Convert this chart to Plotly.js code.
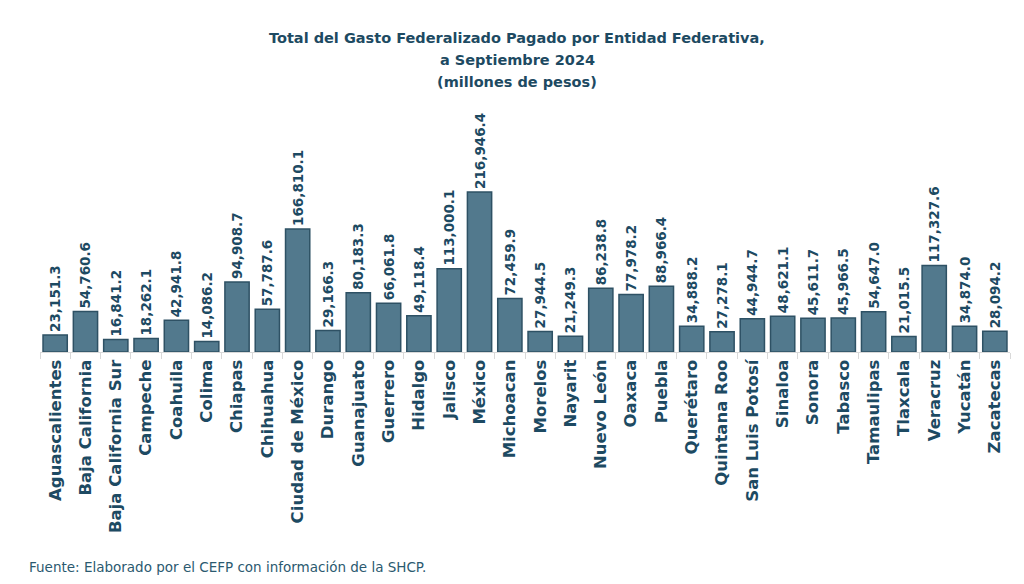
<!DOCTYPE html>
<html><head><meta charset="utf-8">
<script src="https://cdn.plot.ly/plotly-3.0.1.min.js"></script>
<style>html,body{margin:0;padding:0;background:#fff}#c{width:1024px;height:584px}</style>
</head><body><div id="c"></div>
<script>
const estados = ["Aguascalientes","Baja California","Baja California Sur","Campeche","Coahuila","Colima","Chiapas","Chihuahua","Ciudad de México","Durango","Guanajuato","Guerrero","Hidalgo","Jalisco","México","Michoacan","Morelos","Nayarit","Nuevo León","Oaxaca","Puebla","Querétaro","Quintana Roo","San Luis Potosí","Sinaloa","Sonora","Tabasco","Tamaulipas","Tlaxcala","Veracruz","Yucatán","Zacatecas"];
const gasto = [23151.3,54760.6,16841.2,18262.1,42941.8,14086.2,94908.7,57787.6,166810.1,29166.3,80183.3,66061.8,49118.4,113000.1,216946.4,72459.9,27944.5,21249.3,86238.8,77978.2,88966.4,34888.2,27278.1,44944.7,48621.1,45611.7,45966.5,54647.0,21015.5,117327.6,34874.0,28094.2];
const tituloLineas = ["Total del Gasto Federalizado Pagado por Entidad Federativa,","a Septiembre 2024","(millones de pesos)"];
const etiquetas = gasto.map(v => v.toLocaleString('en-US',{minimumFractionDigits:1,maximumFractionDigits:1}));
const navy = '#1d4a62';
const plotTop = 110, plotH = 584 - 110 - 232;
const titleAnns = tituloLineas.map((t,i) => ({
  text:'<b>'+t+'</b>', xref:'paper', yref:'paper', x:0.492, xanchor:'center',
  y: 1 + (plotTop - (38 + 22*i))/plotH, yanchor:'middle', showarrow:false,
  font:{family:'DejaVu Sans', size:14.5, color:navy}
}));
Plotly.newPlot('c', [{
  type:'bar', x:estados, y:gasto, text:etiquetas, textposition:'outside', textangle:-90,
  cliponaxis:false, constraintext:'none',
  textfont:{family:'DejaVu Sans', size:13.5, color:navy, weight:'bold'},
  marker:{color:'#52798d', line:{color:'#2e5164', width:1.5}},
  width:0.8, hoverinfo:'none'
}], {
  width:1024, height:584,
  margin:{l:40,r:14,t:plotTop,b:232},
  paper_bgcolor:'#fff', plot_bgcolor:'#fff',
  showlegend:false,
  xaxis:{tickangle:-90, tickfont:{family:'DejaVu Sans', size:16.5, color:navy, weight:'bold'},
    showline:true, linecolor:'#d9d9d9', linewidth:1, ticks:'outside', tickson:'boundaries',
    ticklen:6, tickcolor:'#d9d9d9', showgrid:false, fixedrange:true},
  yaxis:{visible:false, range:[0,328000], showgrid:false, zeroline:false},
  annotations: titleAnns.concat([{text:'Fuente: Elaborado por el CEFP con información de la SHCP.', xref:'paper', yref:'paper',
    x:-0.013, xanchor:'left', y:-(567-352)/plotH, yanchor:'middle', showarrow:false,
    font:{family:'DejaVu Sans', size:13.5, color:'#2b5a70'}}])
}, {displayModeBar:false, staticPlot:true});
</script></body></html>
